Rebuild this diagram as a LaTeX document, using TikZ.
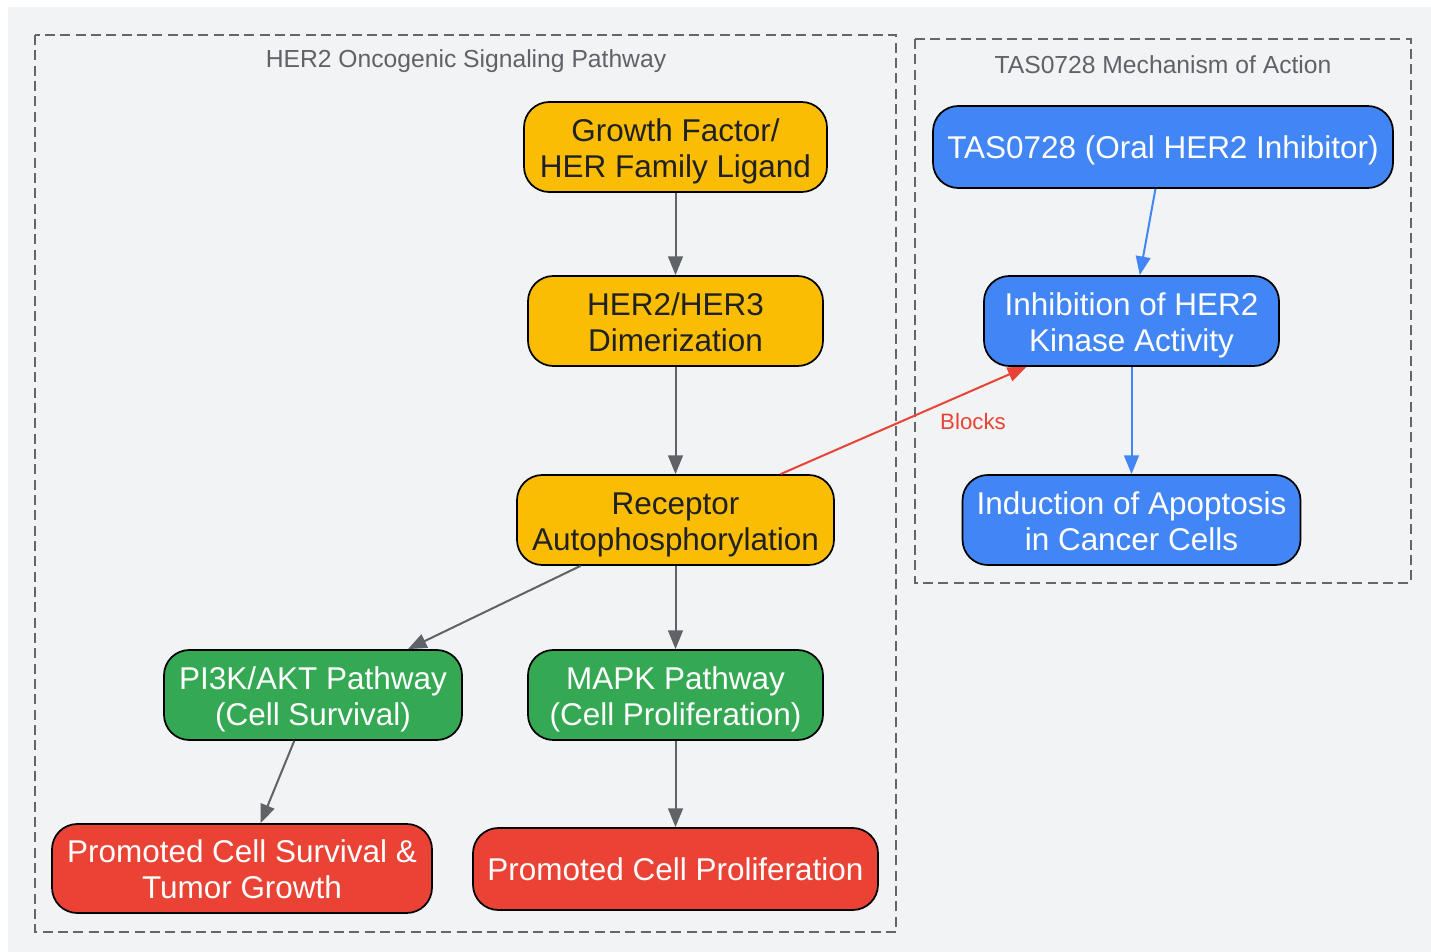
\documentclass[tikz,border=0pt]{standalone}
\usepackage{fontspec}
\setmainfont{Liberation Sans}
\usetikzlibrary{arrows.meta}
\definecolor{pagebg}{HTML}{F1F3F4}
\definecolor{gyellow}{HTML}{FBBC04}
\definecolor{ggreen}{HTML}{34A853}
\definecolor{gred}{HTML}{EA4335}
\definecolor{gblue}{HTML}{4285F4}
\definecolor{edgegray}{HTML}{5F6368}
\definecolor{clustergray}{HTML}{666666}
\definecolor{darktext}{HTML}{202124}
\begin{document}
\begin{tikzpicture}[x=0.75pt,y=-0.75pt,
    box/.style={draw=black,line width=1.3pt,rounded corners=19pt,inner sep=0pt,
      minimum height=67.5pt,align=center,font=\fontsize{23.6}{27}\selectfont,
      text height=22pt,text depth=5pt},
    twoline/.style={text height=50.4pt,text depth=5pt},
    yellowbox/.style={box,fill=gyellow,text=darktext},
    greenbox/.style={box,fill=ggreen,text=white},
    redbox/.style={box,fill=gred,text=white},
    bluebox/.style={box,fill=gblue,text=white},
    cluster/.style={draw=clustergray,line width=1.4pt,dash pattern=on 7.5pt off 4pt},
    clustertitle/.style={text=edgegray,font=\fontsize{18.5}{22}\selectfont},
    flow/.style={draw=edgegray,line width=1.5pt,-{Triangle[length=14pt,width=11pt]}},
    blueflow/.style={flow,draw=gblue},
    redflow/.style={flow,draw=gred}]
  \useasboundingbox (0,0) rectangle (1431,952);
  \fill[white] (0,0) rectangle (1431,952);
  \fill[pagebg] (8,7) rectangle (1431,952);
  \draw[cluster] (35,35) rectangle (896,932);
  \draw[cluster] (915,39) rectangle (1411,583);
  \node[clustertitle] (lefttitle) at (466,61) {HER2 Oncogenic Signaling Pathway};
  \node[clustertitle] (righttitle) at (1163,65) {TAS0728 Mechanism of Action};

  \node[yellowbox,twoline,minimum width=227.25pt] (ligand) at (675.5,147) {Growth Factor/\\HER Family Ligand};
  \node[yellowbox,twoline,minimum width=221.25pt] (dimer) at (675.5,321) {HER2/HER3\\Dimerization};
  \node[yellowbox,twoline,minimum width=237.75pt] (autophos) at (675.5,520) {Receptor\\Autophosphorylation};
  \node[greenbox,twoline,minimum width=223.5pt] (pikt) at (313,695) {PI3K/AKT Pathway\\(Cell Survival)};
  \node[greenbox,twoline,minimum width=221.25pt] (mapk) at (675.5,695) {MAPK Pathway\\(Cell Proliferation)};
  \node[redbox,twoline,minimum width=285pt,minimum height=66.75pt] (survival) at (242,868.5) {Promoted Cell Survival \&\\Tumor Growth};
  \node[redbox,minimum width=303.75pt,minimum height=61.5pt] (prolif) at (675.5,869) {Promoted Cell Proliferation};

  \node[bluebox,minimum width=345pt,minimum height=61.5pt] (drug) at (1163,147) {TAS0728 (Oral HER2 Inhibitor)};
  \node[bluebox,twoline,minimum width=221.25pt] (inhib) at (1131.5,321) {Inhibition of HER2\\Kinase Activity};
  \node[bluebox,twoline,minimum width=253.5pt] (apopt) at (1131.5,520) {Induction of Apoptosis\\in Cancer Cells};

  \draw[flow] (ligand) -- (dimer);
  \draw[flow] (dimer) -- (autophos);
  \draw[flow] (autophos) -- (pikt);
  \draw[flow] (autophos) -- (mapk);
  \draw[flow] (pikt) -- (survival);
  \draw[flow] (mapk) -- (prolif);
  \draw[blueflow] (drug) -- (inhib);
  \draw[blueflow] (inhib) -- (apopt);
  \draw[redflow] (autophos) -- (inhib) node[pos=0.64,anchor=north west,inner sep=1pt,text=gred,
    font=\fontsize{16.7}{20}\selectfont,yshift=-4.5pt] (blocks) {Blocks};
\end{tikzpicture}
\end{document}
